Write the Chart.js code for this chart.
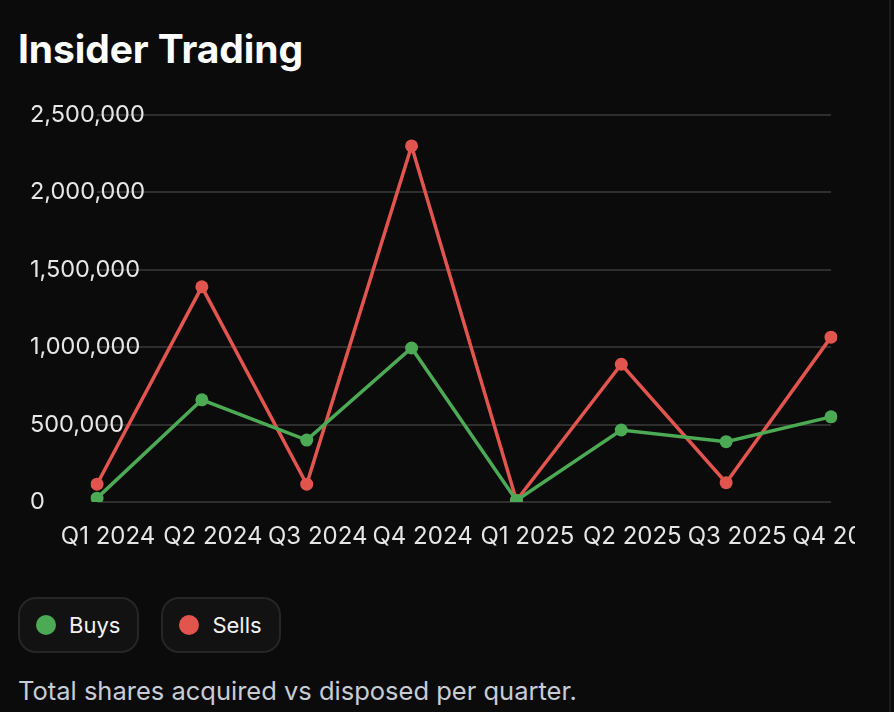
<!DOCTYPE html>
<html>
<head>
<meta charset="utf-8">
<script src="https://cdn.jsdelivr.net/npm/chart.js@4"></script>
<style>
  html, body { margin: 0; padding: 0; }
  body {
    width: 894px; height: 712px; background: #0b0b0b; overflow: hidden;
    font-family: Inter, "Noto Sans", sans-serif; position: relative;
  }
  .edge { position: absolute; left: 889px; top: 0; width: 2px; height: 712px; background: #1c1c1c; }
  h1 {
    position: absolute; left: 18px; top: 29px; margin: 0;
    font-size: 39px; line-height: 40px; font-weight: 700; color: #fff; letter-spacing: -0.1px;
  }
  .chart-box { position: absolute; left: 18px; top: 95px; width: 837px; height: 460px; overflow: hidden; }
  .legend { position: absolute; left: 18px; top: 597px; display: flex; gap: 22px; }
  .pill {
    box-sizing: border-box; height: 56px; padding: 0 17px 0 16px; display: flex; align-items: center;
    border: 2px solid #262626; border-radius: 18px; background: #121212;
    color: #f2f2f2; font-size: 22px;
  }
  .pill .dot { width: 20px; height: 20px; border-radius: 50%; margin-right: 13px; }
  .caption {
    position: absolute; left: 18px; top: 677px; margin: 0;
    font-size: 25.5px; line-height: 28px; color: #c8ccd4;
  }
</style>
</head>
<body>
<div class="edge"></div>
<h1>Insider Trading</h1>
<div class="chart-box"><canvas id="tradeChart" width="837" height="460"></canvas></div>
<div class="legend" id="legend"></div>
<p class="caption">Total shares acquired vs disposed per quarter.</p>

<script>
// du lieu
const quarters = ['Q1 2024', 'Q2 2024', 'Q3 2024', 'Q4 2024', 'Q1 2025', 'Q2 2025', 'Q3 2025', 'Q4 2025'];
const buys = [25000, 660000, 400000, 995000, 10000, 465000, 390000, 550000];
const sells = [115000, 1390000, 115000, 2300000, 10000, 890000, 125000, 1065000];
const yTicks = [0, 500000, 1000000, 1500000, 2000000, 2500000];

const green = '#4caa55';
const red = '#e2554f';

var ctx = document.getElementById('tradeChart').getContext('2d');
var tradeChart = new Chart(ctx, {
  type: 'line',
  data: {
    labels: quarters,
    datasets: [
      { label: 'Buys', data: buys, borderColor: green, backgroundColor: green },
      { label: 'Sells', data: sells, borderColor: red, backgroundColor: red }
    ]
  },
  options: {
    responsive: false,
    animation: false,
    events: [],
    layout: { autoPadding: false, padding: { left: 12, right: 24, top: 20, bottom: 0 } },
    elements: {
      line: { borderWidth: 3.5, tension: 0 },
      point: { radius: 6.5, borderWidth: 0 }
    },
    plugins: { legend: { display: false }, tooltip: { enabled: false } },
    scales: {
      x: {
        offset: false,
        grid: { display: false, drawTicks: false },
        border: { display: false },
        afterFit: function(scale) {
          scale.height = 53;
          scale.paddingLeft = 0;
          scale.paddingRight = 0;
        },
        ticks: {
          color: '#e6e6e6', font: { family: 'Inter', size: 24 },
          padding: 20, labelOffset: 11, autoSkip: false, maxRotation: 0, minRotation: 0
        }
      },
      y: {
        min: 0, max: 2500000,
        grid: { color: '#2e2e2e', lineWidth: 2, drawTicks: false },
        border: { display: false },
        afterFit: function(scale) {
          scale.width = 67;
          scale.paddingTop = 0;
          scale.paddingBottom = 0;
        },
        afterBuildTicks: function(scale) { scale.ticks = yTicks.map(v => ({ value: v })); },
        ticks: {
          color: '#e6e6e6', font: { family: 'Inter', size: 23.5 },
          mirror: true, crossAlign: 'near', padding: -67,
          callback: v => v.toLocaleString('en-US')
        }
      }
    }
  }
});

// legend dang nut
const legend = document.getElementById('legend');
tradeChart.data.datasets.forEach(ds => {
  const pill = document.createElement('div');
  pill.className = 'pill';
  pill.innerHTML = `<span class="dot" style="background:${ds.backgroundColor}"></span>${ds.label}`;
  legend.appendChild(pill);
});
</script>
</body>
</html>
